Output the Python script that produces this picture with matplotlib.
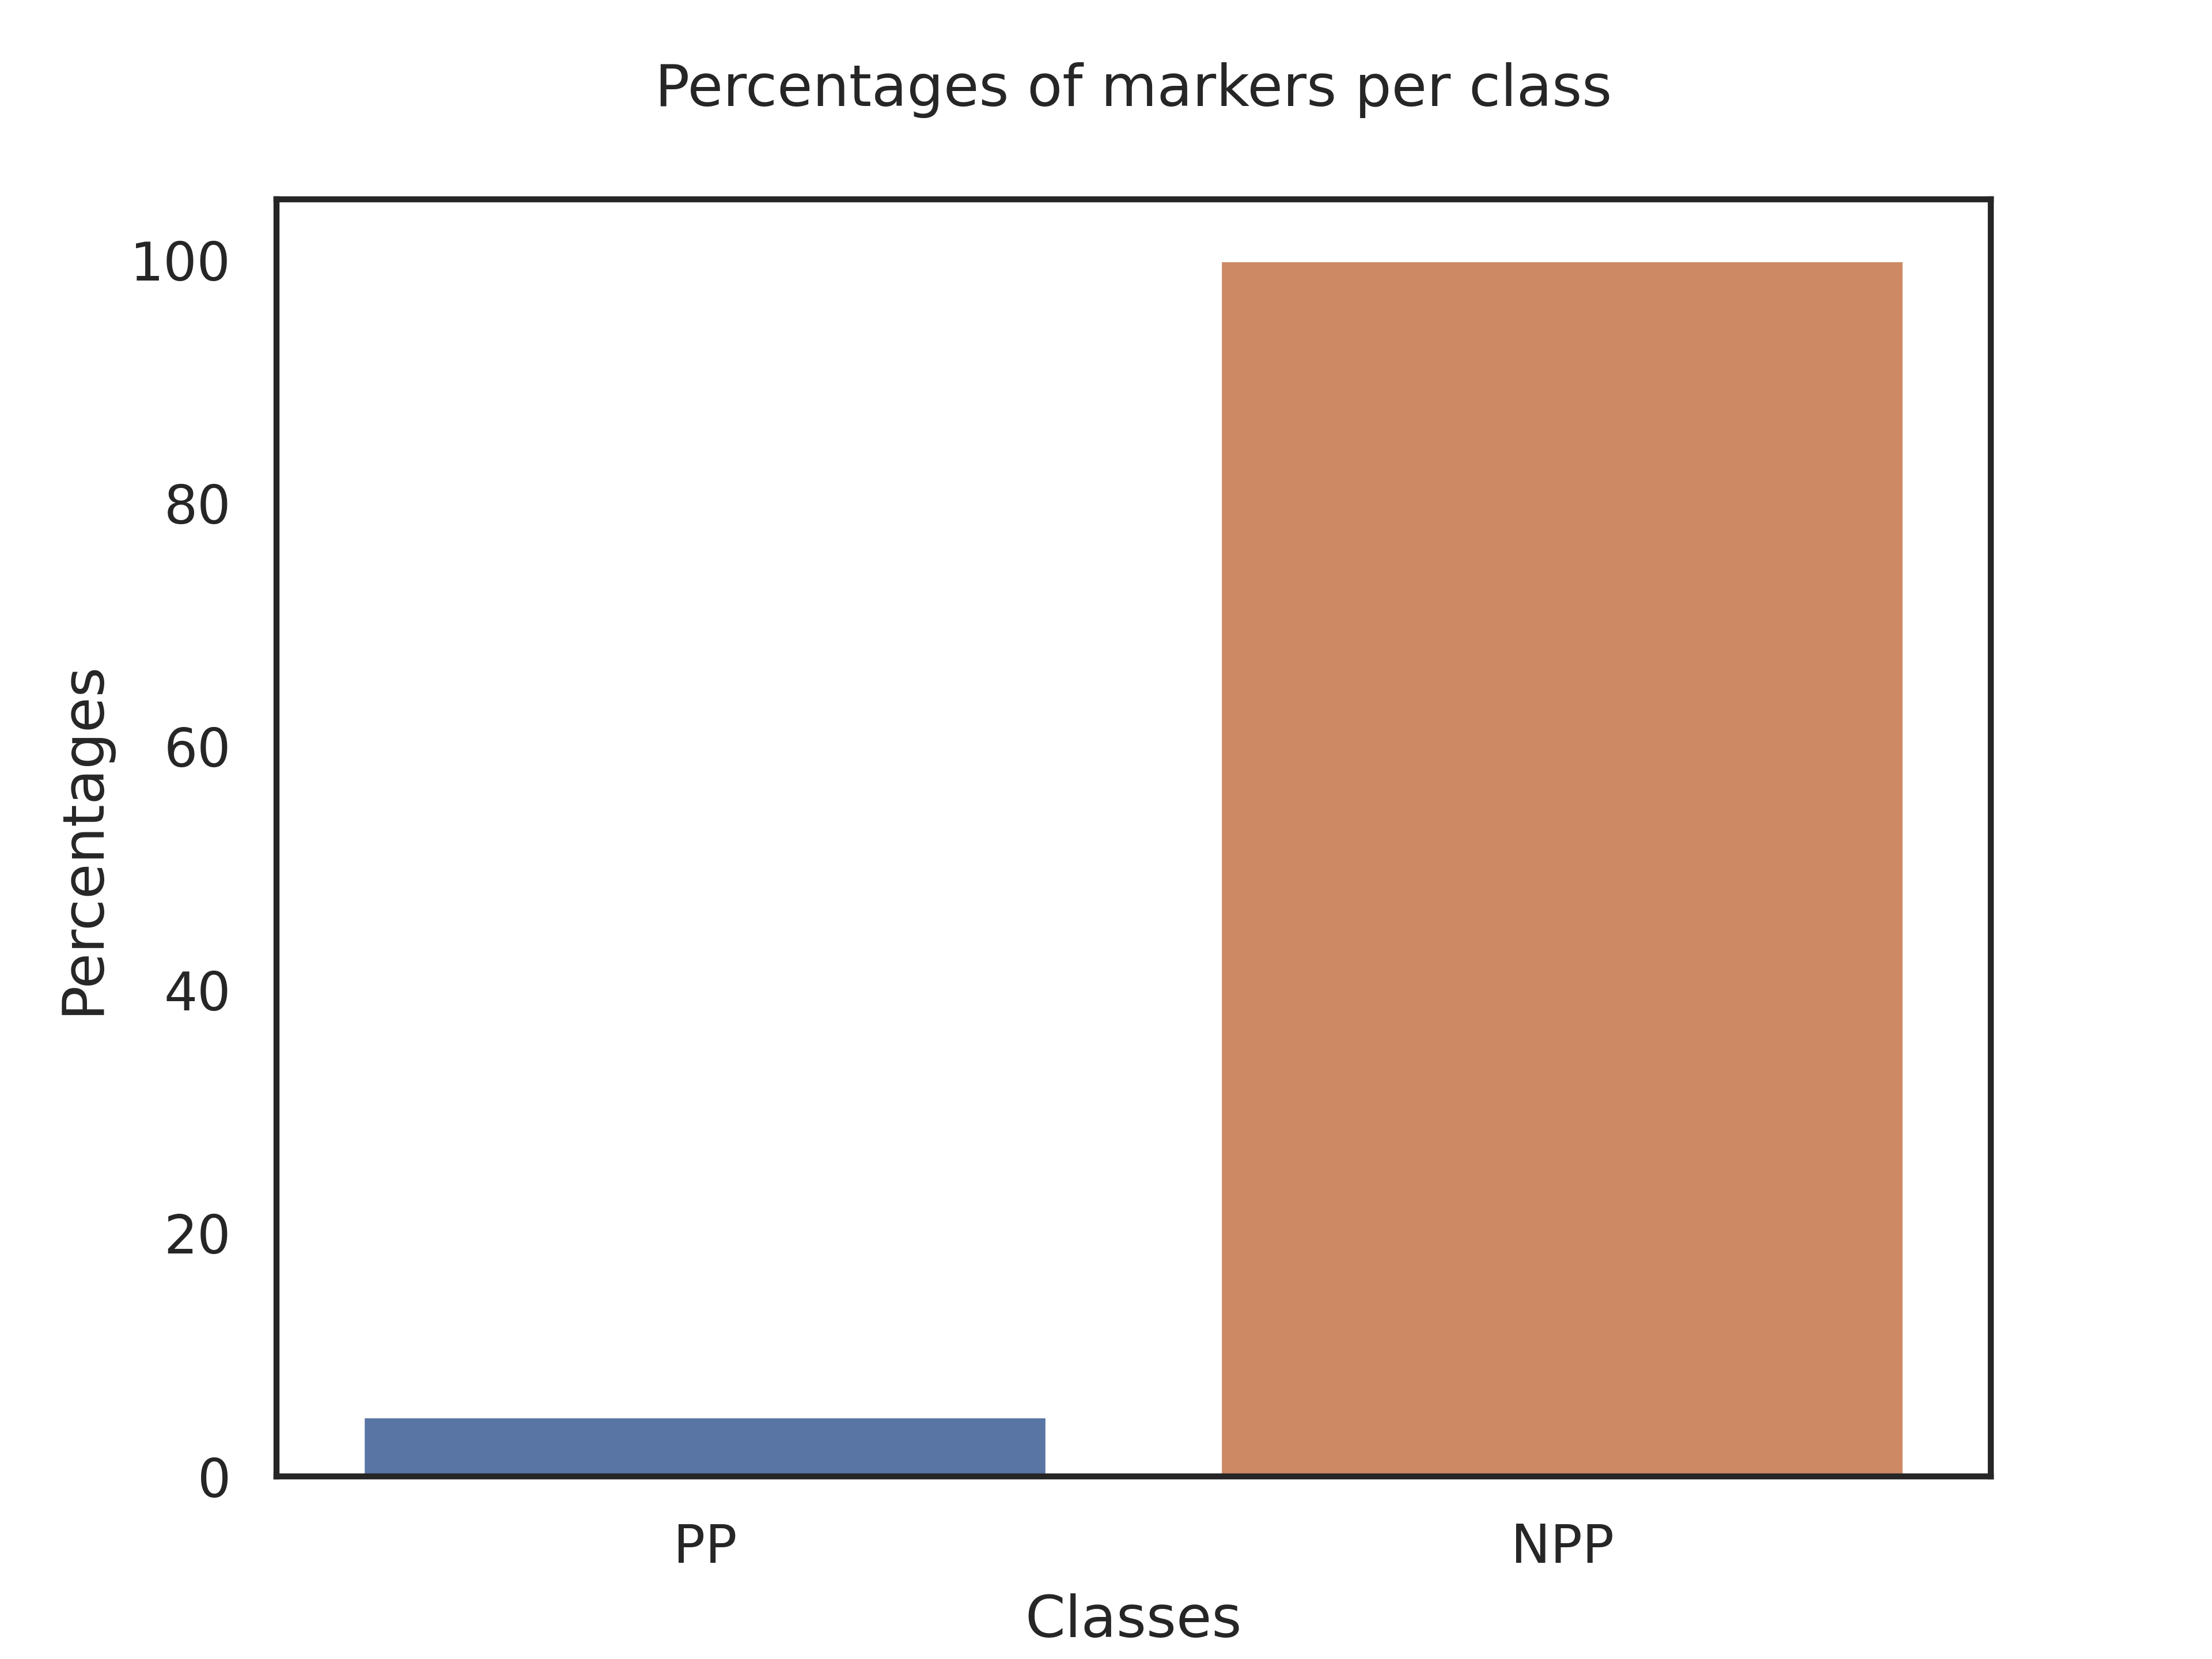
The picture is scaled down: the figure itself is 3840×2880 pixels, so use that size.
import matplotlib
matplotlib.use("Agg")
import matplotlib.pyplot as plt
import seaborn as sns

sns.set_theme(style="white")

# Data
classes = ["PP", "NPP"]
percentages = [5.0, 100.0]

fig, ax = plt.subplots(figsize=(6.4, 4.8))
sns.barplot(x=classes, y=percentages, hue=classes, palette=sns.color_palette()[:2],
            legend=False, ax=ax)
ax.set_title("Percentages of markers per class", pad=19.4)
ax.set_xlabel("Classes")
ax.set_ylabel("Percentages")
for s in ax.spines.values():
    s.set_color("#262626")
    s.set_linewidth(1.25)

fig.savefig("out.png", dpi=600)
